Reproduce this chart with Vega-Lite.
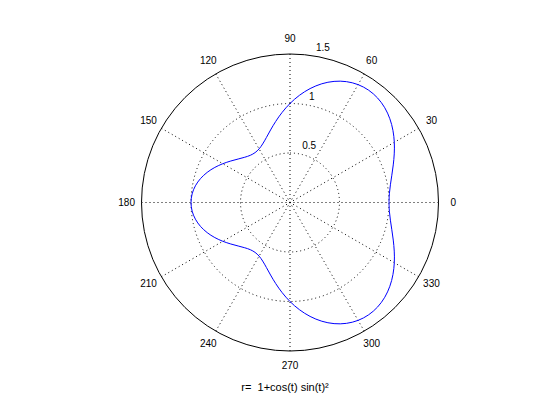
{
  "$schema": "https://vega.github.io/schema/vega-lite/v6.json",
  "width": 297,
  "height": 297,
  "autosize": "none",
  "padding": {"left": 141.5, "top": 54, "right": 121.5, "bottom": 69},
  "background": "white",
  "config": {"view": {"stroke": null}},
  "datasets": {
    "curve": [
      {"t": 0, "x": 1, "y": 0},
      {"t": 5, "x": 1.003729, "y": 0.08782},
      {"t": 10, "x": 1.014055, "y": 0.178807},
      {"t": 15, "x": 1.028431, "y": 0.275567},
      {"t": 20, "x": 1.042983, "y": 0.379616},
      {"t": 25, "x": 1.053016, "y": 0.49103},
      {"t": 30, "x": 1.053531, "y": 0.608253},
      {"t": 35, "x": 1.039905, "y": 0.728156},
      {"t": 40, "x": 1.008499, "y": 0.846239},
      {"t": 45, "x": 0.95711, "y": 0.95711},
      {"t": 50, "x": 0.885254, "y": 1.054994},
      {"t": 55, "x": 0.794338, "y": 1.134423},
      {"t": 60, "x": 0.6875, "y": 1.190791},
      {"t": 65, "x": 0.569327, "y": 1.220924},
      {"t": 70, "x": 0.445314, "y": 1.223487},
      {"t": 75, "x": 0.321321, "y": 1.199186},
      {"t": 80, "x": 0.202895, "y": 1.150666},
      {"t": 85, "x": 0.094699, "y": 1.082358},
      {"t": 90, "x": 0, "y": 1},
      {"t": 95, "x": -0.079621, "y": 0.910022},
      {"t": 100, "x": -0.144405, "y": 0.818954},
      {"t": 105, "x": -0.19632, "y": 0.732675},
      {"t": 110, "x": -0.238726, "y": 0.655893},
      {"t": 115, "x": -0.275913, "y": 0.591697},
      {"t": 120, "x": -0.3125, "y": 0.541269},
      {"t": 125, "x": -0.352822, "y": 0.503877},
      {"t": 130, "x": -0.400327, "y": 0.477086},
      {"t": 135, "x": -0.457109, "y": 0.457109},
      {"t": 140, "x": -0.523581, "y": 0.439341},
      {"t": 145, "x": -0.598395, "y": 0.419004},
      {"t": 150, "x": -0.678529, "y": 0.391747},
      {"t": 155, "x": -0.759604, "y": 0.35421},
      {"t": 160, "x": -0.836396, "y": 0.304424},
      {"t": 165, "x": -0.90343, "y": 0.242073},
      {"t": 170, "x": -0.955565, "y": 0.168493},
      {"t": 175, "x": -0.988651, "y": 0.0865},
      {"t": 180, "x": -1, "y": 0},
      {"t": 185, "x": -0.988651, "y": -0.0865},
      {"t": 190, "x": -0.955565, "y": -0.168493},
      {"t": 195, "x": -0.90343, "y": -0.242073},
      {"t": 200, "x": -0.836396, "y": -0.304424},
      {"t": 205, "x": -0.759604, "y": -0.35421},
      {"t": 210, "x": -0.678529, "y": -0.391747},
      {"t": 215, "x": -0.598395, "y": -0.419004},
      {"t": 220, "x": -0.523581, "y": -0.439341},
      {"t": 225, "x": -0.457109, "y": -0.457109},
      {"t": 230, "x": -0.400327, "y": -0.477086},
      {"t": 235, "x": -0.352822, "y": -0.503877},
      {"t": 240, "x": -0.3125, "y": -0.541269},
      {"t": 245, "x": -0.275913, "y": -0.591697},
      {"t": 250, "x": -0.238726, "y": -0.655893},
      {"t": 255, "x": -0.19632, "y": -0.732675},
      {"t": 260, "x": -0.144405, "y": -0.818954},
      {"t": 265, "x": -0.079621, "y": -0.910022},
      {"t": 270, "x": 0, "y": -1},
      {"t": 275, "x": 0.094699, "y": -1.082358},
      {"t": 280, "x": 0.202895, "y": -1.150666},
      {"t": 285, "x": 0.321321, "y": -1.199186},
      {"t": 290, "x": 0.445314, "y": -1.223487},
      {"t": 295, "x": 0.569327, "y": -1.220924},
      {"t": 300, "x": 0.6875, "y": -1.190791},
      {"t": 305, "x": 0.794338, "y": -1.134423},
      {"t": 310, "x": 0.885254, "y": -1.054994},
      {"t": 315, "x": 0.95711, "y": -0.95711},
      {"t": 320, "x": 1.008499, "y": -0.846239},
      {"t": 325, "x": 1.039905, "y": -0.728156},
      {"t": 330, "x": 1.053531, "y": -0.608253},
      {"t": 335, "x": 1.053016, "y": -0.49103},
      {"t": 340, "x": 1.042983, "y": -0.379616},
      {"t": 345, "x": 1.028431, "y": -0.275567},
      {"t": 350, "x": 1.014055, "y": -0.178807},
      {"t": 355, "x": 1.003729, "y": -0.08782},
      {"t": 360, "x": 1, "y": 0}
    ],
    "spokes": [
      {"angle": 0, "x": -1.5, "y": 0, "x2": 1.5, "y2": 0},
      {"angle": 30, "x": -1.299038, "y": -0.75, "x2": 1.299038, "y2": 0.75},
      {"angle": 60, "x": -0.75, "y": -1.299038, "x2": 0.75, "y2": 1.299038},
      {"angle": 90, "x": 0, "y": -1.5, "x2": 0, "y2": 1.5},
      {"angle": 120, "x": 0.75, "y": -1.299038, "x2": -0.75, "y2": 1.299038},
      {"angle": 150, "x": 1.299038, "y": -0.75, "x2": -1.299038, "y2": 0.75}
    ],
    "innerRings": [
      {"r": 0.5},
      {"r": 1.0}
    ],
    "outerRing": [
      {"r": 1.5}
    ],
    "angleLabels": [
      {"label": "0", "x": 1.65, "y": 0},
      {"label": "30", "x": 1.428942, "y": 0.825},
      {"label": "60", "x": 0.825, "y": 1.428942},
      {"label": "90", "x": 0, "y": 1.65},
      {"label": "120", "x": -0.825, "y": 1.428942},
      {"label": "150", "x": -1.428942, "y": 0.825},
      {"label": "180", "x": -1.65, "y": 0},
      {"label": "210", "x": -1.428942, "y": -0.825},
      {"label": "240", "x": -0.825, "y": -1.428942},
      {"label": "270", "x": 0, "y": -1.65},
      {"label": "300", "x": 0.825, "y": -1.428942},
      {"label": "330", "x": 1.428942, "y": -0.825}
    ],
    "radialLabels": [
      {"label": "0.5", "x": 0.07307, "y": 0.51989},
      {"label": "1", "x": 0.14265, "y": 1.015027},
      {"label": "1.5", "x": 0.212236, "y": 1.510162}
    ]
  },
  "layer": [
    {
      "data": {"name": "innerRings"},
      "mark": {"type": "arc", "theta": 0, "theta2": 6.4, "filled": false, "fill": null, "stroke": "black", "strokeWidth": 1, "strokeDash": [1, 3]},
      "encoding": {
        "x": {"datum": 0, "type": "quantitative", "scale": {"domain": [-1.5, 1.5], "nice": false, "zero": false}, "axis": null},
        "y": {"datum": 0, "type": "quantitative", "scale": {"domain": [-1.5, 1.5], "nice": false, "zero": false}, "axis": null},
        "radius": {"field": "r", "type": "quantitative", "stack": null, "scale": {"type": "linear", "domain": [0, 1.5], "range": [0, 148.5], "zero": true, "nice": false}, "legend": null}
      }
    },
    {
      "data": {"name": "spokes"},
      "mark": {"type": "rule", "color": "black", "strokeWidth": 1, "strokeDash": [1, 3]},
      "encoding": {
        "x": {"field": "x", "type": "quantitative", "scale": {"domain": [-1.5, 1.5], "nice": false, "zero": false}, "axis": null},
        "y": {"field": "y", "type": "quantitative", "scale": {"domain": [-1.5, 1.5], "nice": false, "zero": false}, "axis": null},
        "x2": {"field": "x2"},
        "y2": {"field": "y2"}
      }
    },
    {
      "data": {"name": "outerRing"},
      "mark": {"type": "arc", "theta": 0, "theta2": 6.4, "filled": false, "fill": null, "stroke": "black", "strokeWidth": 1},
      "encoding": {
        "x": {"datum": 0, "type": "quantitative", "scale": {"domain": [-1.5, 1.5], "nice": false, "zero": false}, "axis": null},
        "y": {"datum": 0, "type": "quantitative", "scale": {"domain": [-1.5, 1.5], "nice": false, "zero": false}, "axis": null},
        "radius": {"field": "r", "type": "quantitative", "stack": null, "scale": {"type": "linear", "domain": [0, 1.5], "range": [0, 148.5], "zero": true, "nice": false}, "legend": null}
      }
    },
    {
      "data": {"name": "curve"},
      "mark": {"type": "line", "color": "#0000ff", "strokeWidth": 1, "interpolate": "catmull-rom"},
      "encoding": {
        "x": {"field": "x", "type": "quantitative", "scale": {"domain": [-1.5, 1.5], "nice": false, "zero": false}, "axis": null},
        "y": {"field": "y", "type": "quantitative", "scale": {"domain": [-1.5, 1.5], "nice": false, "zero": false}, "axis": null},
        "order": {"field": "t", "type": "quantitative"}
      }
    },
    {
      "data": {"name": "angleLabels"},
      "mark": {"type": "text", "font": "Liberation Sans", "fontSize": 10, "align": "center", "baseline": "middle", "color": "black"},
      "encoding": {
        "x": {"field": "x", "type": "quantitative", "scale": {"domain": [-1.5, 1.5], "nice": false, "zero": false}, "axis": null},
        "y": {"field": "y", "type": "quantitative", "scale": {"domain": [-1.5, 1.5], "nice": false, "zero": false}, "axis": null},
        "text": {"field": "label"}
      }
    },
    {
      "data": {"name": "radialLabels"},
      "mark": {"type": "text", "font": "Liberation Sans", "fontSize": 10, "align": "left", "baseline": "bottom", "dx": 5, "color": "black"},
      "encoding": {
        "x": {"field": "x", "type": "quantitative", "scale": {"domain": [-1.5, 1.5], "nice": false, "zero": false}, "axis": null},
        "y": {"field": "y", "type": "quantitative", "scale": {"domain": [-1.5, 1.5], "nice": false, "zero": false}, "axis": null},
        "text": {"field": "label"}
      }
    },
    {
      "data": {"values": [{"label": "r= \u00a01+cos(t) sin(t)²"}]},
      "mark": {"type": "text", "font": "Liberation Sans", "fontSize": 11, "align": "center", "baseline": "middle", "color": "black"},
      "encoding": {
        "x": {"datum": -0.05, "type": "quantitative", "scale": {"domain": [-1.5, 1.5], "nice": false, "zero": false}, "axis": null},
        "y": {"datum": -1.874, "type": "quantitative", "scale": {"domain": [-1.5, 1.5], "nice": false, "zero": false}, "axis": null},
        "text": {"field": "label"}
      }
    }
  ]
}
